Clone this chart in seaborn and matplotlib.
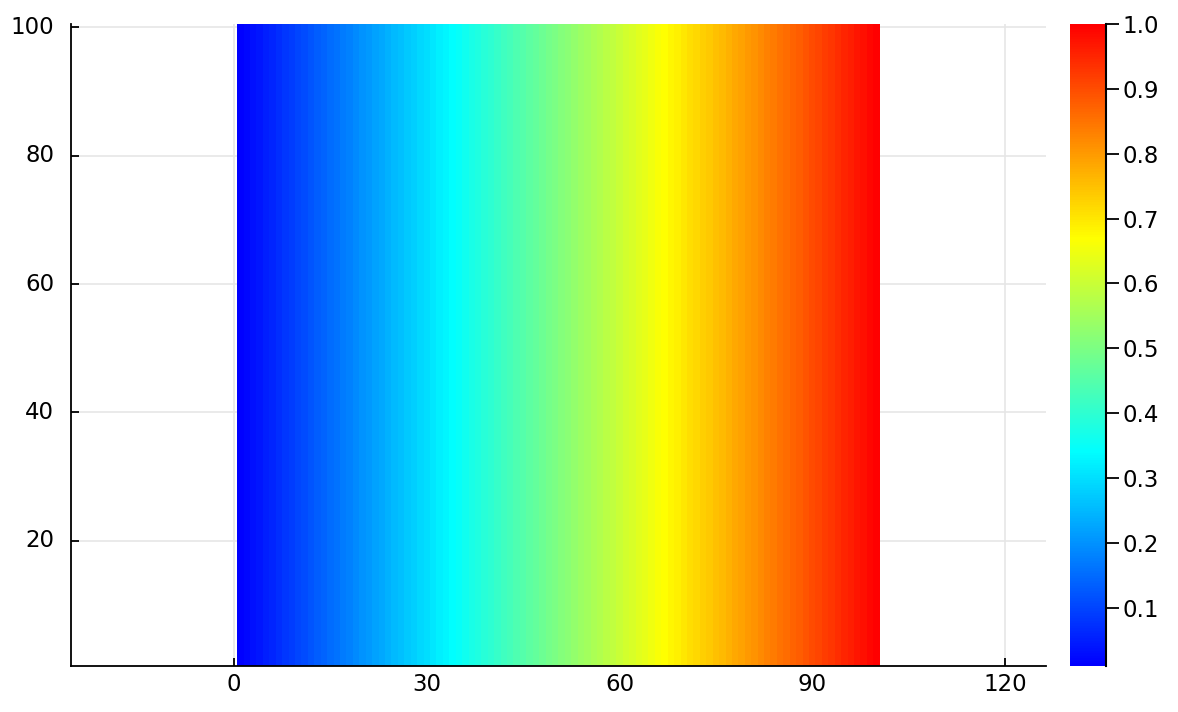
import numpy as np
import pandas as pd
import matplotlib
matplotlib.use("Agg")
import matplotlib.pyplot as plt
import seaborn as sns
from matplotlib.colors import LinearSegmentedColormap

# ---- data ----
x_values = list(range(1, 101))          # column positions 1..100
y_values = list(range(1, 101))          # row positions 1..100
col_values = [
    0.01, 0.02, 0.03, 0.04, 0.05, 0.06, 0.07, 0.08, 0.09, 0.10,
    0.11, 0.12, 0.13, 0.14, 0.15, 0.16, 0.17, 0.18, 0.19, 0.20,
    0.21, 0.22, 0.23, 0.24, 0.25, 0.26, 0.27, 0.28, 0.29, 0.30,
    0.31, 0.32, 0.33, 0.34, 0.35, 0.36, 0.37, 0.38, 0.39, 0.40,
    0.41, 0.42, 0.43, 0.44, 0.45, 0.46, 0.47, 0.48, 0.49, 0.50,
    0.51, 0.52, 0.53, 0.54, 0.55, 0.56, 0.57, 0.58, 0.59, 0.60,
    0.61, 0.62, 0.63, 0.64, 0.65, 0.66, 0.67, 0.68, 0.69, 0.70,
    0.71, 0.72, 0.73, 0.74, 0.75, 0.76, 0.77, 0.78, 0.79, 0.80,
    0.81, 0.82, 0.83, 0.84, 0.85, 0.86, 0.87, 0.88, 0.89, 0.90,
    0.91, 0.92, 0.93, 0.94, 0.95, 0.96, 0.97, 0.98, 0.99, 1.00,
]
x_ticks = [0, 30, 60, 90, 120]
y_ticks = [20, 40, 60, 80, 100]
cbar_ticks = [0.1, 0.2, 0.3, 0.4, 0.5, 0.6, 0.7, 0.8, 0.9, 1.0]
vmin, vmax = 0.01, 1.0
x_lim = (-25.37, 126.38)
y_lim = (0.5, 100.5)

# table built from the arrays above (every row identical)
df = pd.DataFrame(np.tile(col_values, (len(y_values), 1)),
                  index=y_values, columns=x_values)

sns.set_theme(style="ticks")
plt.rcParams["font.family"] = ["DejaVu Sans"]

cmap = LinearSegmentedColormap.from_list(
    "jet4", ["#0000ff", "#00ffff", "#ffff00", "#ff0000"])

W, H = 1178, 712
fig = plt.figure(figsize=(W / 100, H / 100), dpi=100)
ax = fig.add_axes([71 / W, (H - 666) / H, 975 / W, 642 / H])
cax = fig.add_axes([1070 / W, (H - 666) / H, 36 / W, 642 / H])

sns.heatmap(df, cmap=cmap, vmin=vmin, vmax=vmax, ax=ax, cbar_ax=cax,
            linewidths=0)

# heatmap uses index coordinates: cell for value v spans [v-x0, v-x0+1]
def to_ix(v, first):
    return v - first + 0.5

ax.set_xlim(to_ix(x_lim[0], x_values[0]), to_ix(x_lim[1], x_values[0]))
ax.set_ylim(to_ix(y_lim[0], y_values[0]), to_ix(y_lim[1], y_values[0]))
ax.set_xticks([to_ix(t, x_values[0]) for t in x_ticks])
ax.set_xticklabels([str(t) for t in x_ticks], rotation=0)
ax.set_yticks([to_ix(t, y_values[0]) for t in y_ticks])
ax.set_yticklabels([str(t) for t in y_ticks], rotation=0)
ax.set_xlabel("")
ax.set_ylabel("")

ax.grid(True, color="#e6e6e6", linewidth=1.2)
ax.set_axisbelow(True)
for s in ["left", "bottom"]:
    ax.spines[s].set_visible(True)
    ax.spines[s].set_color("black")
    ax.spines[s].set_linewidth(1.3)
for s in ["top", "right"]:
    ax.spines[s].set_visible(False)
ax.tick_params(axis="both", direction="in", length=5.5, width=1.3,
               colors="black", labelsize=16.5)
ax.tick_params(axis="x", pad=5, bottom=True)
ax.tick_params(axis="y", pad=12, left=True)

cbar = ax.collections[0].colorbar
cbar.outline.set_visible(False)
cbar.set_ticks(cbar_ticks)
cbar.set_ticklabels([f"{t:.1f}" for t in cbar_ticks])
cax.spines["right"].set_visible(True)
cax.spines["right"].set_color("black")
cax.spines["right"].set_linewidth(1.5)
cax.tick_params(axis="y", direction="out", length=9, width=1.3,
                colors="black", labelsize=16.5, pad=3, right=True)

fig.savefig("out.png", dpi=100)
